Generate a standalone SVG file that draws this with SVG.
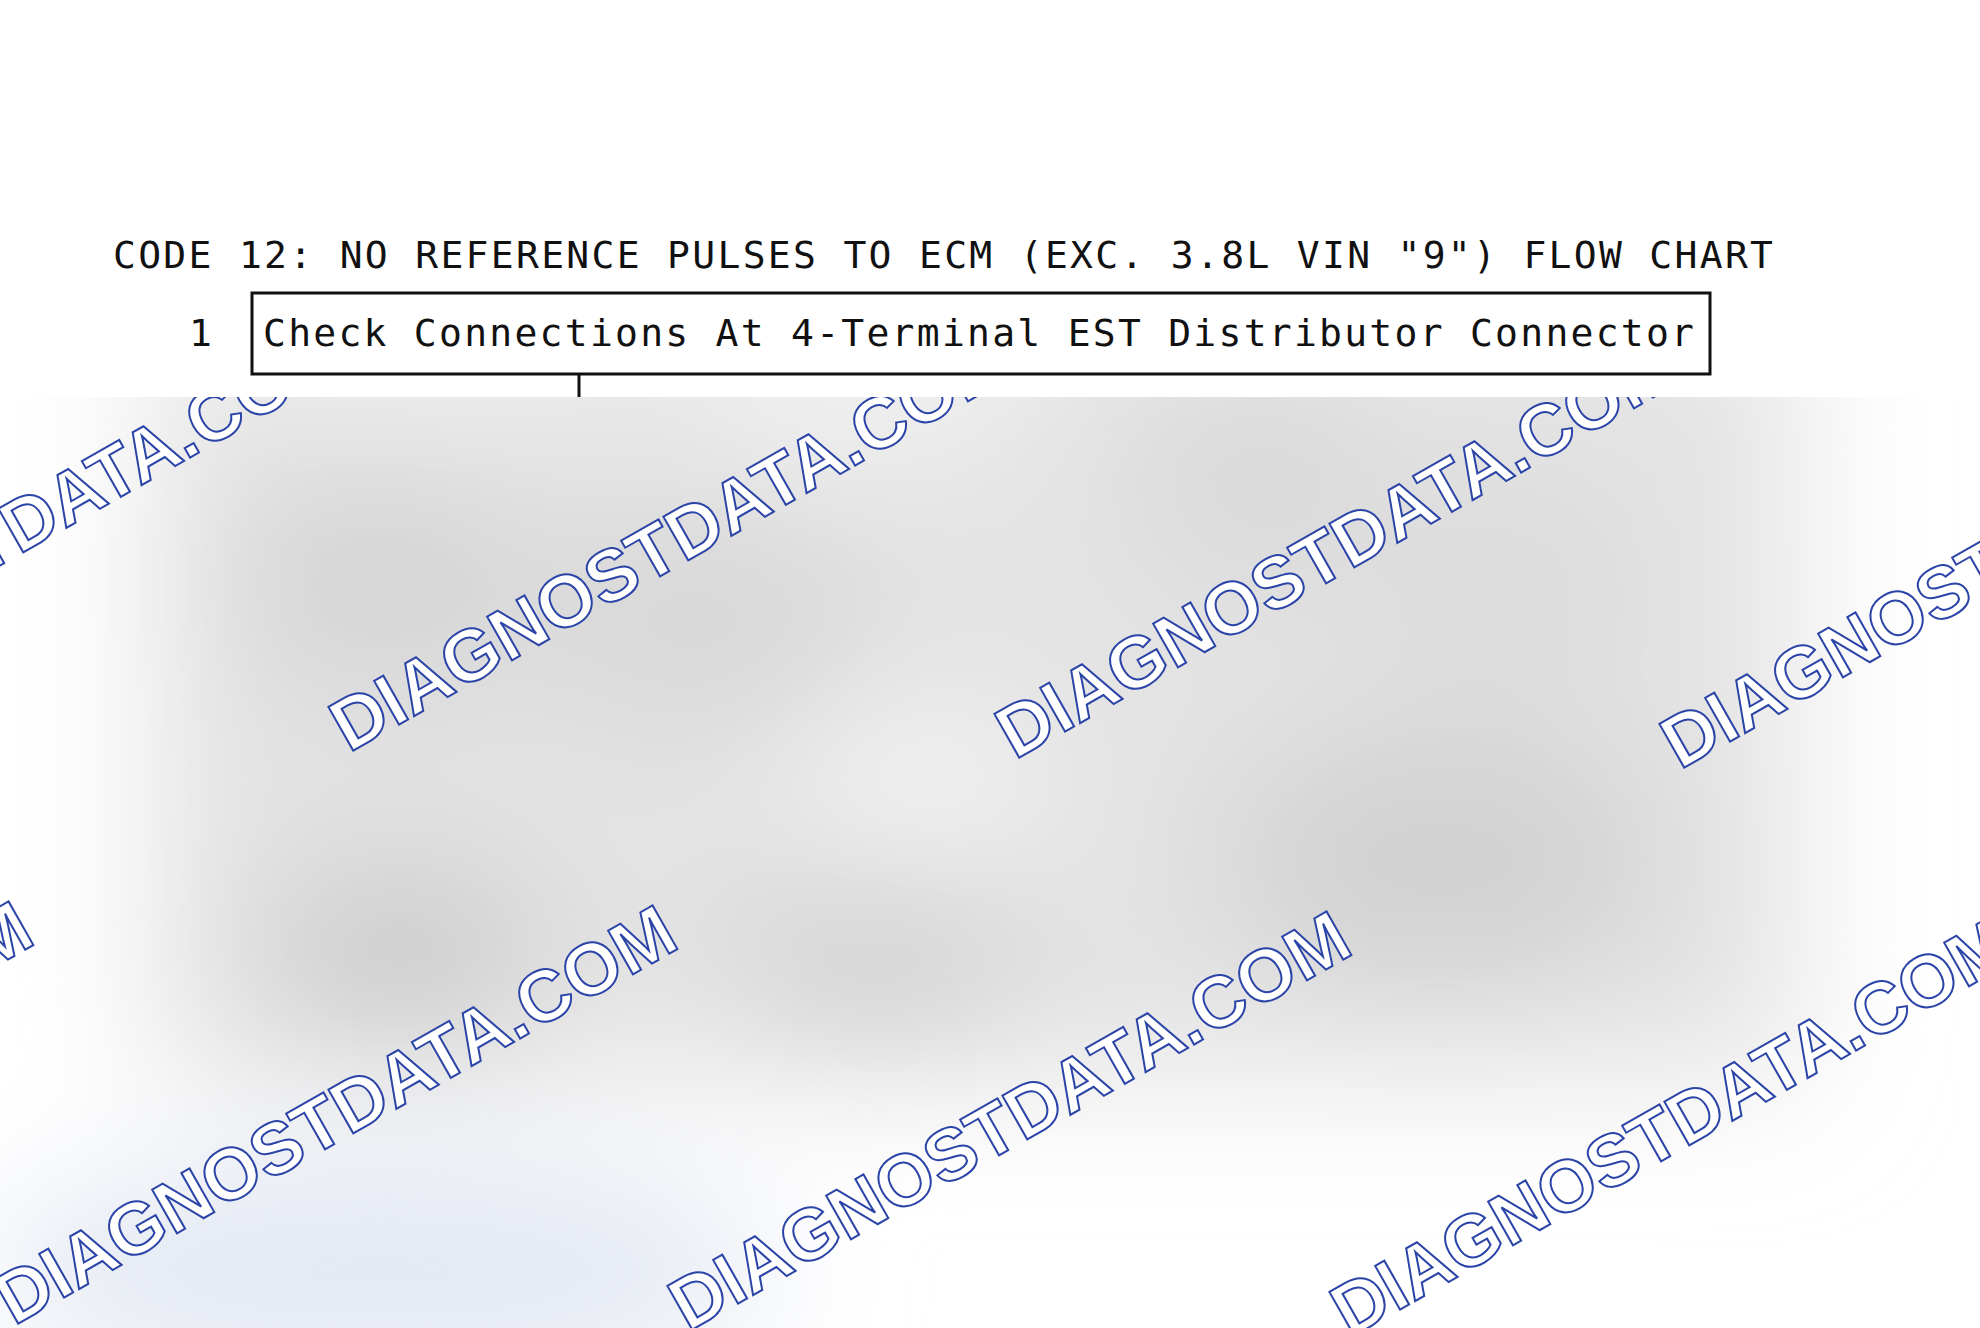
<svg xmlns="http://www.w3.org/2000/svg" width="1980" height="1328" viewBox="0 0 1980 1328">
<style>
.mono{font-family:"DejaVu Sans Mono","Liberation Mono",monospace;font-size:38px;fill:#111}
.wm{font-family:"Liberation Sans",Arial,sans-serif;font-weight:bold;font-size:73px;fill:#ffffff;stroke:#2b44a8;stroke-width:2}
.box{fill:#ffffff;stroke:#111;stroke-width:3}
.conn{stroke:#111;stroke-width:3;fill:none}
</style>
<defs>
<clipPath id="cb"><rect x="0" y="397" width="1980" height="931"/></clipPath>
<filter id="bl" x="-50%" y="-50%" width="200%" height="200%"><feGaussianBlur stdDeviation="70"/></filter>
</defs>
<rect x="0" y="0" width="1980" height="1328" fill="#ffffff"/>
<g id="blurred-area" clip-path="url(#cb)">
<g filter="url(#bl)">
<rect x="150" y="300" width="1650" height="780" fill="#e3e3e3"/>
<ellipse cx="380" cy="580" rx="150" ry="110" fill="#d4d4d4"/>
<ellipse cx="700" cy="620" rx="170" ry="90" fill="#d6d6d6"/>
<ellipse cx="1260" cy="480" rx="110" ry="100" fill="#d7d7d7"/>
<ellipse cx="1500" cy="590" rx="130" ry="100" fill="#dadada"/>
<ellipse cx="1440" cy="860" rx="220" ry="130" fill="#d1d1d1"/>
<ellipse cx="400" cy="960" rx="140" ry="90" fill="#cbcbcb"/>
<ellipse cx="880" cy="960" rx="140" ry="90" fill="#d2d2d2"/>
<ellipse cx="920" cy="790" rx="130" ry="90" fill="#f2f2f2"/>
<ellipse cx="860" cy="400" rx="180" ry="60" fill="#f3f3f3"/>
<ellipse cx="420" cy="390" rx="220" ry="45" fill="#efefef"/>
<ellipse cx="380" cy="1270" rx="400" ry="110" fill="#e2e7f2"/>
</g>
<g id="watermarks">
<text class="wm" transform="translate(-316,745) rotate(-29.6)">DIAGNOSTDATA.COM</text>
<text class="wm" transform="translate(349,753) rotate(-29.6)">DIAGNOSTDATA.COM</text>
<text class="wm" transform="translate(1015,760) rotate(-29.6)">DIAGNOSTDATA.COM</text>
<text class="wm" transform="translate(1680,770) rotate(-29.6)">DIAGNOSTDATA.COM</text>
<text class="wm" transform="translate(-630,1322) rotate(-29.6)">DIAGNOSTDATA.COM</text>
<text class="wm" transform="translate(14,1326) rotate(-29.6)">DIAGNOSTDATA.COM</text>
<text class="wm" transform="translate(688,1332) rotate(-29.6)">DIAGNOSTDATA.COM</text>
<text class="wm" transform="translate(1350,1338) rotate(-29.6)">DIAGNOSTDATA.COM</text>
</g>
</g>
<g id="title">
<text class="mono" x="113" y="268" textLength="1660" lengthAdjust="spacing">CODE 12: NO REFERENCE PULSES TO ECM (EXC. 3.8L VIN &quot;9&quot;) FLOW CHART</text>
</g>
<g id="connectors">
<line class="conn" x1="579" y1="374" x2="579" y2="397"/>
</g>
<g id="node-1">
<rect class="box" x="252" y="293" width="1458" height="81"/>
<text class="mono" x="189" y="346">1</text>
<text class="mono" x="263" y="346" textLength="1431" lengthAdjust="spacing">Check Connections At 4-Terminal EST Distributor Connector</text>
</g>
</svg>
